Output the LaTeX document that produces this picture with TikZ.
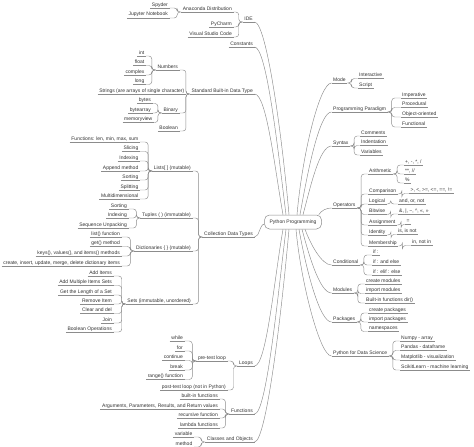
\documentclass[tikz,border=0pt]{standalone}
\usepackage{fontspec}
\setmainfont{Liberation Sans}
\newcommand\mmfont{\fontsize{5}{6}\selectfont}
\definecolor{txt}{HTML}{333333}
\definecolor{lc}{HTML}{8C8C8C}
\tikzset{
  lnk/.style={draw=lc, line width=0.45pt},
  lel/.style={lnk, rounded corners=3pt},
  ul/.style={append after command={(\tikzlastnode.south west) edge[lnk] (\tikzlastnode.south east)}},
  tbase/.style={font=\mmfont, text=txt, inner xsep=1.5pt, inner ysep=0.8pt, text height=3.6pt, text depth=1pt, ul},
  lt/.style={tbase, anchor=base east},
  rt/.style={tbase, anchor=base west},
  br/.style={lnk}
}
\begin{document}
\begin{tikzpicture}[x=1pt,y=1pt]
\fill[white] (0,0) rectangle (474,-447);
\useasboundingbox (0,0) rectangle (474,-447);

% centre
\node[draw=lc, fill=white, rounded corners=5pt, minimum width=57pt, minimum height=14pt,
      font=\mmfont, text=txt, line width=0.5pt, inner sep=1pt] (pp) at (293,-222) {Python Programming};

% ---------------- left side ----------------
\node[lt] (ide)   at (254.5,-20) {IDE};
\node[lt] (anac)  at (233.5,-10) {Anaconda Distribution};
\node[lt] (spy)   at (169.5,-6) {Spyder};
\node[lt] (jup)   at (169.5,-16) {Jupyter Notebook};
\node[lt] (pyc)   at (233.5,-25) {PyCharm};
\node[lt] (vsc)   at (233.5,-35) {Visual Studio Code};
\node[lt] (const) at (254.5,-45) {Constants};
\node[lt] (std)   at (254.5,-92) {Standard Built-in Data Type};
\node[lt] (num)   at (179.5,-68) {Numbers};
\node[lt] (int)   at (146,-54) {int};
\node[lt] (float) at (146,-63.5) {float};
\node[lt] (cplx)  at (146,-73) {complex};
\node[lt] (long)  at (146,-82.5) {long};
\node[lt] (str)   at (186,-92) {Strings (are arrays of single character)};
\node[lt] (bin)   at (179.5,-111) {Binary};
\node[lt] (bytes) at (152.5,-101.5) {bytes};
\node[lt] (barr)  at (152.5,-111) {bytearray};
\node[lt] (mview) at (154,-120.5) {memoryview};
\node[lt] (bool)  at (179.5,-129) {Boolean};
\node[lt] (coll)  at (254.5,-235) {Collection Data Types};
\node[lt] (lists) at (192.5,-169) {Lists[ ] (mutable)};
\node[lt] (fn)    at (140,-140) {Functions: len, min, max, sum};
\node[lt] (slic)  at (140,-149.5) {Slicing};
\node[lt] (lidx)  at (140,-159) {Indexing};
\node[lt] (app)   at (140,-169) {Append method};
\node[lt] (lsort) at (140,-178) {Sorting};
\node[lt] (split) at (140,-188) {Splitting};
\node[lt] (multi) at (140,-197) {Multidimensional};
\node[lt] (tup)   at (192.5,-216) {Tuples ( ) (immutable)};
\node[lt] (tsort) at (128.5,-207) {Sorting};
\node[lt] (tidx)  at (128.5,-216) {Indexing};
\node[lt] (unp)   at (128.5,-226) {Sequence Unpacking};
\node[lt] (dict)  at (192.5,-249) {Dictionaries \{ \} (mutable)};
\node[lt] (listf) at (121.5,-235) {list() function};
\node[lt] (getm)  at (121.5,-244.5) {get() method};
\node[lt] (keys)  at (121.5,-254) {keys(), values(), and items() methods};
\node[lt] (crt)   at (121.5,-264) {create, insert, update, merge, delete dictionary items};
\node[lt] (sets)  at (192.5,-302) {Sets (immutable, unordered)};
\node[lt] (addi)  at (113.5,-274) {Add Items};
\node[lt] (addm)  at (113.5,-283.5) {Add Multiple Items Sets};
\node[lt] (glen)  at (113.5,-293) {Get the Length of a Set};
\node[lt] (rem)   at (113.5,-302) {Remove Item};
\node[lt] (clr)   at (113.5,-311.5) {Clear and del};
\node[lt] (join)  at (113.5,-321) {Join};
\node[lt] (bops)  at (113.5,-330) {Boolean Operations};
\node[lt] (loops) at (254.5,-364) {Loops};
\node[lt] (pre)   at (227.5,-359) {pre-test loop};
\node[lt] (while) at (184.5,-339) {while};
\node[lt] (for)   at (184.5,-349) {for};
\node[lt] (cont)  at (184.5,-358.5) {continue};
\node[lt] (brk)   at (184.5,-368) {break};
\node[lt] (rng)   at (184.5,-377.5) {range() function};
\node[lt] (post)  at (227.5,-388) {post-test loop (not in Python)};
\node[lt] (func)  at (254.5,-412) {Functions};
\node[lt] (bif)   at (219.5,-397) {built-in functions};
\node[lt] (args)  at (219.5,-407) {Arguments, Parameters, Results, and Return values};
\node[lt] (rec)   at (219.5,-416) {recursive function};
\node[lt] (lam)   at (219.5,-426) {lambda functions};
\node[lt] (cls)   at (254.5,-440) {Classes and Objects};
\node[lt] (var)   at (194,-435) {variable};
\node[lt] (meth)  at (194,-445) {method};

% ---------------- right side ----------------
\node[rt] (mode)  at (331.5,-81) {Mode};
\node[rt] (inter) at (357.5,-76.5) {Interactive};
\node[rt] (scr)   at (357.5,-86) {Script};
\node[rt] (para)  at (331.5,-110) {Programming Paradigm};
\node[rt] (imp)   at (400.5,-96) {Imperative};
\node[rt] (proc)  at (400.5,-105.5) {Procedural};
\node[rt] (oop)   at (400.5,-115) {Object-oriented};
\node[rt] (fun)   at (400.5,-125) {Functional};
\node[rt] (syn)   at (331.5,-144) {Syntax};
\node[rt] (com)   at (359.5,-134) {Comments};
\node[rt] (ind)   at (359.5,-143.5) {Indentation};
\node[rt] (vars)  at (359.5,-153) {Variables};
\node[rt] (ops)   at (331.5,-206) {Operators};
\node[rt] (ari)   at (367.5,-172) {Arithmetic};
\node[rt] (aa)    at (403.5,-163) {+, -, *, /};
\node[rt] (ab)    at (403.5,-172) {**, //};
\node[rt] (ac)    at (403.5,-181) {\%};
\node[rt] (cmp)   at (367.5,-192) {Comparison};
\node[rt] (ca)    at (409,-191.5) {>, <, >=, <=, ==, !=};
\node[rt] (logi)  at (367.5,-202) {Logical};
\node[rt] (la)    at (397.5,-202) {and, or, not};
\node[rt] (bit)   at (367.5,-212.5) {Bitwise};
\node[rt] (ba)    at (397.5,-212) {\&, |, \textasciitilde, \textasciicircum, <<, >>};
\node[rt] (asg)   at (367.5,-223) {Assignment};
\node[rt] (sa)    at (405,-222.5) {=};
\node[rt] (idn)   at (367.5,-233) {Identity};
\node[rt] (ia)    at (396.5,-232.5) {is, is not};
\node[rt] (mem)   at (367.5,-244) {Membership};
\node[rt] (ma)    at (410.5,-243.5) {in, not in};
\node[rt] (cond)  at (331.5,-263) {Conditional};
\node[rt] (ifa)   at (371.5,-253) {if :};
\node[rt] (ifb)   at (371.5,-263) {if : and else};
\node[rt] (ifc)   at (371.5,-273) {if : elif : else};
\node[rt] (mod)   at (331.5,-291) {Modules};
\node[rt] (cmod)  at (364.5,-282) {create modules};
\node[rt] (imod)  at (364.5,-291.5) {import modules};
\node[rt] (bfd)   at (364.5,-301) {Built-in functions dir()};
\node[rt] (pkg)   at (331.5,-320) {Packages};
\node[rt] (cpkg)  at (367.5,-311) {create packages};
\node[rt] (ipkg)  at (367.5,-320) {import packages};
\node[rt] (nsp)   at (367.5,-329.5) {namespaces};
\node[rt] (ds)    at (331.5,-354) {Python for Data Science};
\node[rt] (np)    at (399.5,-339) {Numpy - array};
\node[rt] (pd)    at (399.5,-348.5) {Pandas - dataframe};
\node[rt] (mpl)   at (399.5,-358) {Matplotlib - visualization};
\node[rt] (skl)   at (399.5,-368) {ScikitLearn - machine learning};

% ---------------- main branches ----------------
\draw[br] ([xshift=-4pt]pp.north)  to[out=95,in=0,out distance=80pt,in distance=12pt] (ide.south east);
\draw[br] ([xshift=-7pt]pp.north)  to[out=97,in=0,out distance=70pt,in distance=12pt] (const.south east);
\draw[br] ([xshift=-10pt]pp.north) to[out=100,in=0,out distance=50pt,in distance=12pt] (std.south east);
\draw[br] ([yshift=-2pt]pp.west)   to[out=190,in=0,out distance=5pt,in distance=5pt] (coll.south east);
\draw[br] ([xshift=-10pt]pp.south) to[out=-100,in=0,out distance=50pt,in distance=12pt] (loops.south east);
\draw[br] ([xshift=-7pt]pp.south)  to[out=-97,in=0,out distance=70pt,in distance=12pt] (func.south east);
\draw[br] ([xshift=-4pt]pp.south)  to[out=-95,in=0,out distance=80pt,in distance=12pt] (cls.south east);

\draw[br] ([xshift=4pt]pp.north)   to[out=85,in=180,out distance=60pt,in distance=12pt] (mode.south west);
\draw[br] ([xshift=7pt]pp.north)   to[out=80,in=180,out distance=45pt,in distance=12pt] (para.south west);
\draw[br] ([xshift=10pt]pp.north)  to[out=75,in=180,out distance=30pt,in distance=12pt] (syn.south west);
\draw[br] ([xshift=-3pt]pp.north east) to[out=60,in=180,out distance=5pt,in distance=5pt] (ops.south west);
\draw[br] ([xshift=12pt]pp.south)  to[out=-70,in=180,out distance=15pt,in distance=10pt] (cond.south west);
\draw[br] ([xshift=9pt]pp.south)   to[out=-75,in=180,out distance=25pt,in distance=12pt] (mod.south west);
\draw[br] ([xshift=6pt]pp.south)   to[out=-80,in=180,out distance=40pt,in distance=12pt] (pkg.south west);
\draw[br] ([xshift=3pt]pp.south)   to[out=-85,in=180,out distance=50pt,in distance=12pt] (ds.south west);

% ---------------- elbow links, left ----------------
\foreach \p/\c in {ide/anac, ide/pyc, ide/vsc, anac/spy, anac/jup,
  std/num, std/str, std/bin, std/bool,
  num/int, num/float, num/cplx, num/long,
  bin/bytes, bin/barr, bin/mview,
  coll/lists, coll/tup, coll/dict, coll/sets,
  lists/fn, lists/slic, lists/lidx, lists/app, lists/lsort, lists/split, lists/multi,
  tup/tsort, tup/tidx, tup/unp,
  dict/listf, dict/getm, dict/keys, dict/crt,
  sets/addi, sets/addm, sets/glen, sets/rem, sets/clr, sets/join, sets/bops,
  loops/pre, loops/post, pre/while, pre/for, pre/cont, pre/brk, pre/rng,
  func/bif, func/args, func/rec, func/lam,
  cls/var, cls/meth}
  \draw[lel] (\p.south west) -- ++(-4,0) |- (\c.south east);

% ---------------- elbow links, right ----------------
\foreach \p/\c in {mode/inter, mode/scr,
  para/imp, para/proc, para/oop, para/fun,
  syn/com, syn/ind, syn/vars,
  ops/ari, ops/cmp, ops/logi, ops/bit, ops/asg, ops/idn, ops/mem,
  ari/aa, ari/ab, ari/ac,
  cmp/ca, logi/la, bit/ba, asg/sa, idn/ia, mem/ma,
  cond/ifa, cond/ifb, cond/ifc,
  mod/cmod, mod/imod, mod/bfd,
  pkg/cpkg, pkg/ipkg, pkg/nsp,
  ds/np, ds/pd, ds/mpl, ds/skl}
  \draw[lel] (\p.south east) -- ++(4,0) |- (\c.south west);
\end{tikzpicture}
\end{document}
